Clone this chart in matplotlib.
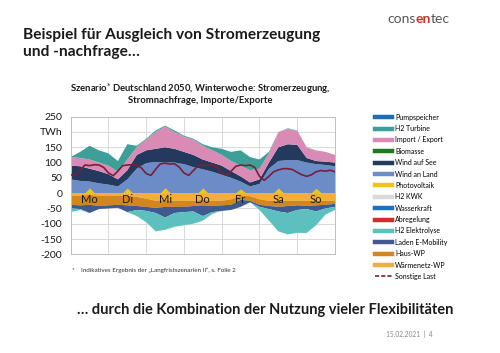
import numpy as np
import matplotlib
matplotlib.use("Agg")
import matplotlib.pyplot as plt
from matplotlib.lines import Line2D

plt.rcParams['font.family'] = ['Lato', 'DejaVu Sans']

# ---- data: 6-hour samples over one winter week (TWh-scale as in source) ----
hours6 = np.arange(0, 169, 6)
hours3 = np.arange(0, 169, 3)

wind_land = [45, 40, 38, 32, 28, 22, 45, 80, 98, 102, 100, 100, 95, 85, 78, 70, 60, 50, 38, 22,
             30, 80, 105, 108, 108, 100, 95, 92, 88]
wind_see = [45, 48, 42, 40, 34, 23, 30, 45, 42, 43, 50, 45, 40, 40, 32, 30, 30, 22, 17, 13,
            15, 20, 45, 52, 50, 15, 10, 11, 12]
biomasse = [0, 0, 0, 0, 0, 0, 0, 0, 0, 0, 0, 0, 0, 0, 0, 0, 0, 0, 0, 0, 0, 0, 0, 0, 0, 0, 0, 0, 0]
import_export = [28, 27, 30, 28, 28, 25, 35, 25, 35, 55, 68, 55, 50, 50, 45, 40, 35, 33, 35, 40,
                 35, 30, 50, 50, 47, 35, 35, 32, 25]
h2_turbine = [0, 20, 45, 40, 40, 35, 50, 5, 3, 5, 3, 5, 3, 3, 5, 10, 20, 30, 50, 43,
              30, 5, 0, 2, 0, 0, 0, 0, 0]
pumpspeicher = [0, 0, 0, 0, 0, 0, 0, 0, 0, 0, 0, 0, 0, 0, 0, 0, 0, 0, 0, 0, 0, 0, 0, 0, 0, 0, 0, 0, 0]

waermenetz_wp = [-8, -8, -6, -8, -8, -8, -8, -12, -18, -25, -22, -25, -25, -25, -22, -25, -25, -20,
                 -8, -10, -20, -25, -25, -25, -25, -25, -25, -25, -25]
haus_wp = [-30, -32, -32, -34, -32, -30, -32, -30, -27, -23, -23, -20, -20, -17, -18, -17, -15, -18,
           -14, -15, -18, -17, -20, -17, -15, -17, -15, -13, -10]
laden_emob = [-12, -12, -27, -10, -10, -10, -22, -13, -13, -17, -35, -20, -17, -18, -35, -20, -18, -17,
              -23, -5, -7, -10, -15, -23, -15, -10, -20, -12, -10]
h2_elektrolyse = [-12, -3, 0, 0, 0, 0, 0, -20, -37, -60, -40, -45, -43, -40, -15, -6, 0, 0,
                  0, 0, -10, -38, -65, -70, -75, -78, -45, -20, -10]
abregelung = [0, 0, 0, 0, 0, 0, 0, 0, 0, 0, 0, 0, 0, 0, 0, 0, 0, 0, 0, 0, 0, 0, 0, 0, 0, 0, 0, 0, 0]

# 3-hour samples
photovoltaik = [0, 0, 0, 2, 17, 2, 0, 0,
                0, 0, 0, 2, 17, 2, 0, 0,
                0, 0, 0, 2, 18, 2, 0, 0,
                0, 0, 0, 2, 17, 2, 0, 0,
                0, 0, 0, 2, 14, 2, 0, 0,
                0, 0, 0, 2, 17, 2, 0, 0,
                0, 0, 0, 2, 16, 2, 0, 0, 0]
sonstige_last = [60, 57, 75, 92, 90, 93, 92, 84, 66,
                 57, 72, 90, 92, 93, 92, 82, 64,
                 58, 78, 96, 98, 95, 96, 85, 66,
                 58, 74, 90, 92, 91, 93, 85, 66,
                 58, 72, 88, 92, 90, 92, 84, 55,
                 42, 55, 70, 76, 80, 80, 77, 68,
                 60, 55, 60, 70, 74, 72, 75, 70]

days = ['Mo', 'Di', 'Mi', 'Do', 'Fr', 'Sa', 'So']
yticks = [-200, -150, -100, -50, 0, 50, 100, 150, 200, 250]
ytick_labels = ['-200', '-150', '-100', '-50', '0', '50', '100', '150', 'TWh', '250']

legend_labels = ['Pumpspeicher', 'H2 Turbine', 'Import / Export', 'Biomasse', 'Wind auf See',
                 'Wind an Land', 'Photovoltaik', 'H2 KWK', 'Wasserkraft', 'Abregelung',
                 'H2 Elektrolyse', 'Laden E-Mobility', 'Haus-WP', 'Wärmenetz-WP', 'Sonstige Last']

col = {
    'Pumpspeicher': '#1F6DB5', 'H2 Turbine': '#3E9F98', 'Import / Export': '#D98BB6',
    'Biomasse': '#1E7A1E', 'Wind auf See': '#233A5E', 'Wind an Land': '#6B8CC7',
    'Photovoltaik': '#F0C419', 'H2 KWK': '#D9D9D9', 'Wasserkraft': '#1F72C0',
    'Abregelung': '#D22B2B', 'H2 Elektrolyse': '#5CC0BF', 'Laden E-Mobility': '#40598E',
    'Haus-WP': '#D4861C', 'Wärmenetz-WP': '#F3AE3A', 'Sonstige Last': '#7A1E3A',
}

fig = plt.figure(figsize=(5.0, 3.53), dpi=100)
fig.patch.set_facecolor('white')
ax = fig.add_axes([0.1414, 0.2796, 0.5286, 0.3898])

pos = [wind_land, wind_see, biomasse, import_export, h2_turbine, pumpspeicher]
pos_c = [col['Wind an Land'], col['Wind auf See'], col['Biomasse'], col['Import / Export'],
         col['H2 Turbine'], col['Pumpspeicher']]
ax.stackplot(hours6, *pos, colors=pos_c, linewidth=0, zorder=2)
neg = [waermenetz_wp, haus_wp, laden_emob, h2_elektrolyse, abregelung]
neg_c = [col['Wärmenetz-WP'], col['Haus-WP'], col['Laden E-Mobility'], col['H2 Elektrolyse'],
         col['Abregelung']]
ax.stackplot(hours6, *neg, colors=neg_c, linewidth=0, zorder=2)
ax.fill_between(hours3, 0, photovoltaik, color=col['Photovoltaik'], linewidth=0, zorder=3)
ax.plot(hours3, sonstige_last, color=col['Sonstige Last'], lw=1.2, zorder=4)

ax.set_xlim(0, 168)
ax.set_ylim(-200, 250)
ax.set_yticks(yticks)
ax.set_yticklabels(ytick_labels)
ax.set_xticks(np.arange(0, 169, 24))
ax.set_xticklabels([])
ax.tick_params(length=0, labelsize=7.5, colors='#1a1a1a', pad=6)
ax.grid(True, color='#d9d9d9', lw=0.7, zorder=0)
ax.set_axisbelow(True)
for s in ax.spines.values():
    s.set_color('#bfbfbf')
    s.set_linewidth(0.7)

for i, d in enumerate(days):
    ax.text(12 + 24 * i, -22, d, ha='center', va='center', fontsize=8, color='#1a1a1a', zorder=5)

handles = []
for lab in legend_labels:
    if lab == 'Sonstige Last':
        handles.append(Line2D([], [], color=col[lab], lw=1.2, ls=(0, (2.5, 1.2))))
    else:
        handles.append(Line2D([], [], color=col[lab], lw=3.2))
fig.legend(handles, legend_labels, loc='upper left', bbox_to_anchor=(0.75, 0.678),
           frameon=False, fontsize=5, handlelength=2.4, handletextpad=0.5,
           labelspacing=0.63, borderaxespad=0, borderpad=0)

# slide texts
fig.text(0.046, 0.900, 'Beispiel für Ausgleich von Stromerzeugung', fontsize=11.2,
         fontweight='bold', color='#1a1a1a', va='center')
fig.text(0.046, 0.852, 'und -nachfrage…', fontsize=11.2, fontweight='bold', color='#1a1a1a',
         va='center')
fig.text(0.40, 0.748, 'Szenario$^{*}$ Deutschland 2050, Winterwoche: Stromerzeugung,',
         fontsize=6.8, fontweight='bold', color='#1a1a1a', ha='center', va='center')
fig.text(0.40, 0.716, 'Stromnachfrage, Importe/Exporte', fontsize=6.8, fontweight='bold',
         color='#1a1a1a', ha='center', va='center')

x0 = 0.774
t1 = fig.text(x0, 0.946, 'cons', fontsize=10, color='#555555', va='center')
fig.canvas.draw()
r = fig.canvas.get_renderer()
bb = t1.get_window_extent(r)
x1 = bb.x1 / fig.bbox.width
t2 = fig.text(x1, 0.946, 'en', fontsize=10, color='#C0392B', va='center', fontweight='bold')
bb2 = t2.get_window_extent(r)
x2 = bb2.x1 / fig.bbox.width
fig.text(x2, 0.946, 'tec', fontsize=10, color='#555555', va='center')

fig.text(0.143, 0.235, '*', fontsize=4.5, color='#333333', va='center')
fig.text(0.162, 0.233, 'Indikatives Ergebnis der „Langfristszenarien II“, s. Folie 2',
         fontsize=4.5, color='#333333', va='center')

fig.text(0.154, 0.122, '… durch die Kombination der Nutzung vieler Flexibilitäten',
         fontsize=10.5, fontweight='bold', color='#1a1a1a', va='center')
fig.text(0.772, 0.052, '15.02.2021  |  4', fontsize=4.8, color='#888888', va='center')

fig.savefig('out.png', dpi=100, facecolor='white')
